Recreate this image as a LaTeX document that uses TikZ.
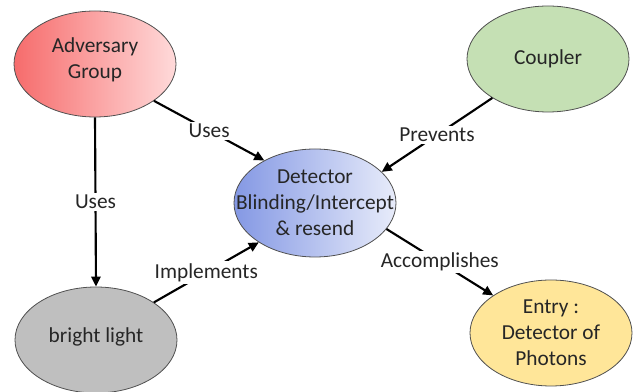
\documentclass[tikz,border=0pt]{standalone}
\usepackage{fontspec}
\setmainfont{Carlito}
\usepackage[x11names,rgb]{xcolor}
\usepackage{tikz}
\usetikzlibrary{shapes.geometric,arrows.meta}

\definecolor{advl}{RGB}{246,108,108}
\definecolor{advr}{RGB}{255,218,218}
\definecolor{detl}{RGB}{132,152,228}
\definecolor{detr}{RGB}{232,236,250}
\definecolor{cplc}{RGB}{197,224,180}
\definecolor{lgtc}{RGB}{191,191,191}
\definecolor{entc}{RGB}{255,230,153}
\definecolor{rimc}{RGB}{80,80,80}

\begin{document}
\begin{tikzpicture}[x=0.75pt,y=0.75pt,
    bubble/.style={ellipse,draw=rimc,line width=0.6pt,inner sep=0pt,
      minimum width=121.5pt,minimum height=79.5pt},
    txt/.style={align=center,text=black!85,font=\fontsize{16}{19.5}\selectfont},
    arr/.style={line width=1.6pt,-{Triangle[length=7.5pt,width=7pt]}},
    lbl/.style={midway,fill=white,inner sep=1.5pt,text=black!85,
      font=\fontsize{16}{19.5}\selectfont}]

  \useasboundingbox (0,0) rectangle (633,392);

  % the bubbles
  \node[bubble,left color=advl,right color=advr] (adv) at (95,328)
    {};
  \node[txt,yshift=3pt] at (adv) {Adversary\\Group};
  \node[bubble,fill=cplc] (cpl) at (548,333) {};
  \node[txt] at (cpl) {Coupler};
  \node[bubble,left color=detl,right color=detr,minimum height=81pt] (det) at (315,189) {};
  \node[txt] at (det) {Detector\\Blinding/Intercept\\\& resend};
  \node[bubble,fill=lgtc] (lgt) at (96,52) {};
  \node[txt,yshift=2pt] at (lgt) {bright light};
  \node[bubble,fill=entc] (ent) at (551,59) {};
  \node[txt] at (ent) {Entry :\\Detector of\\Photons};

  % the links
  \foreach \s/\e/\t in {adv.-32/det.140/Uses, adv.south/lgt.north/Uses,
      cpl.-145/det.25/Prevents, lgt.33/det.-145/Implements,
      det.-20/ent.147/Accomplishes}
    \draw[arr] (\s) -- node[lbl] {\t} (\e);
\end{tikzpicture}
\end{document}
